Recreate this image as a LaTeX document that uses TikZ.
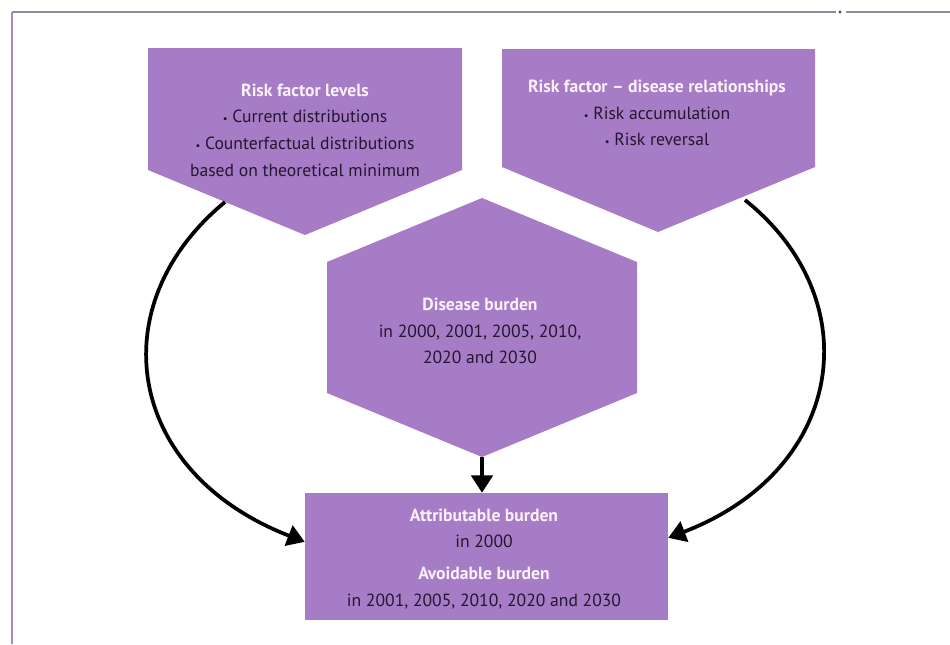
\documentclass[tikz,border=0pt]{standalone}
\usepackage{fontspec}
\setmainfont{PT Sans}
\usetikzlibrary{arrows.meta}

\definecolor{boxfill}{HTML}{A77CC6}
\definecolor{headtext}{HTML}{FBF1FB}
\definecolor{bodytext}{HTML}{24162F}
\definecolor{framegrey}{HTML}{8E8A98}
\definecolor{framepurple}{HTML}{A58BC2}

\newcommand{\boxhead}[1]{{\bfseries\color{headtext}#1}}
\newcommand{\bul}{{\footnotesize\textbullet}\ }

\begin{document}
\begin{tikzpicture}[x=0.75pt,y=-0.75pt,
  panel/.style={fill=boxfill, draw=none},
  label text/.style={align=center, text=bodytext, inner sep=0pt,
    font=\fontsize{13.2}{20}\selectfont},
  link/.style={line width=2.8pt, line cap=butt,
    -{Triangle[length=13pt,width=16pt]}}
]
\useasboundingbox (0,0) rectangle (950,644);

% page frame
\draw[framegrey, line width=1.4pt] (12,12) -- (836,12);
\draw[framegrey, line width=1.4pt] (846,12) -- (950,12);
\fill[black!70] (840,12) circle (1.6);
\draw[framepurple, line width=1.8pt] (12,12) -- (12,644);

% input panels (downward pointing pentagons)
\fill[panel] (148,48) -- (462,48) -- (462,170) -- (305,235) -- (148,170) -- cycle;
\fill[panel] (502,49) -- (815,49) -- (815,167) -- (658,232) -- (502,167) -- cycle;

% disease burden hexagon
\fill[panel] (482,198) -- (637,262) -- (637,393) -- (482,457)
  -- (327,393) -- (327,262) -- cycle;
\coordinate (hexb) at (482,457);

% result box
\node[rectangle, panel, minimum width=272.25pt, minimum height=95.25pt,
  inner sep=0pt] (bot) at (486.5,556.5) {};

% texts
\node[label text] (levels) at (305,130) {%
  \boxhead{Risk factor levels}\\
  \bul Current distributions\\
  \bul Counterfactual distributions\\
  based on theoretical minimum};
\node[label text] (relations) at (657,113) {%
  \boxhead{Risk factor -- disease relationships}\\
  \bul Risk accumulation\\
  \bul Risk reversal};
\node[label text] (burden) at (480,331) {%
  \boxhead{Disease burden}\\
  in 2000, 2001, 2005, 2010,\\
  2020 and 2030};
\node[label text] (bottxt) at (484,559) {%
  \boxhead{Attributable burden}\\
  in 2000\\[4pt]
  \boxhead{Avoidable burden}\\
  in 2001, 2005, 2010, 2020 and 2030};

% connectors
\coordinate (lstart) at (225,202);
\coordinate (rstart) at (745,200);
\draw[link] (lstart) .. controls (100,305) and (125,472) .. ([yshift=11pt]bot.west);
\draw[link] (rstart) .. controls (870,300) and (845,470) .. ([yshift=14pt]bot.east);
\draw[link] (hexb) -- (hexb |- bot.north);
\end{tikzpicture}
\end{document}
